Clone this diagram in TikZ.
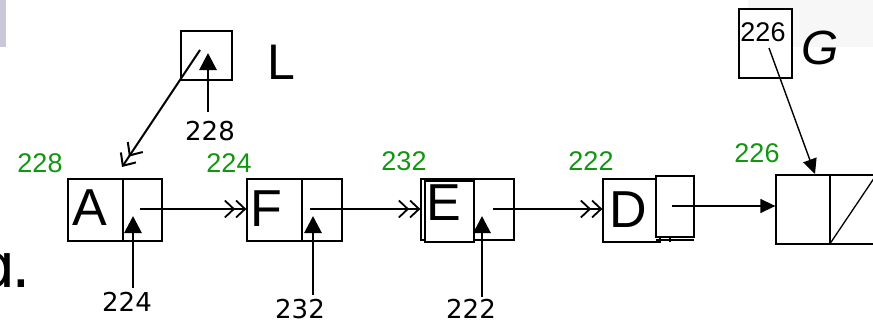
\documentclass[tikz,border=0pt]{standalone}
\usepackage{fontspec}
\setmainfont{DejaVu Sans}
\newfontfamily\lib{Liberation Sans}
\usetikzlibrary{arrows.meta}
\definecolor{lblgreen}{RGB}{16,150,16}
\definecolor{barcol}{RGB}{200,200,216}
\begin{document}
\begin{tikzpicture}[x=1pt,y=-1pt,
  cell/.style={draw, line width=1.3pt, inner sep=0pt, fill=white},
  big/.style={font=\lib\fontsize{52}{52}\selectfont, inner sep=0pt},
  addr/.style={font=\fontsize{26}{26}\selectfont, inner sep=0pt, text=black},
  gaddr/.style={font=\lib\fontsize{27}{27}\selectfont, inner sep=0pt, text=lblgreen},
  ptr/.style={line width=1.3pt, -{Straight Barb[length=9pt,width=17pt,line width=1.8pt] Straight Barb[length=9pt,width=17pt,line width=1.8pt]}},
  lptr/.style={line width=2pt, -{Straight Barb[length=10pt,width=18pt,line width=2pt] Straight Barb[length=10pt,width=18pt,line width=2pt]}},
  uparrow/.style={line width=2.8pt, -{Triangle[length=17pt,width=17pt]}},
  thinarrow/.style={line width=1.4pt, -{Triangle[length=15pt,width=14pt]}}
]
\useasboundingbox (0,0) rectangle (873,324);
\clip (0,0) rectangle (873,324);
\fill[barcol] (0,0) rectangle (6,47);
\fill[gray!6] (748,0) rectangle (873,47);

% text of slide
\node[anchor=base east, inner sep=0pt, font=\fontsize{62}{62}\selectfont] (slide) at (31,287) {ɑ\kern-5pt.};

% L pointer box
\node[cell, minimum width=51pt, minimum height=49pt] (Lbox) at (206.5,55.5) {};
\node[font=\lib\fontsize{50}{50}\selectfont, inner sep=0pt] (Lname) at (281,62) {L};

% node A
\node[cell, minimum width=55pt, minimum height=62pt] (Ad) at (95.5,210) {};
\node[cell, minimum width=39pt, minimum height=62pt] (Ap) at (142.5,210) {};
\node[big] (Al) at (90,208) {A};
% node F
\node[cell, minimum width=55pt, minimum height=62pt] (Fd) at (274.5,210) {};
\node[cell, minimum width=40pt, minimum height=62pt] (Fp) at (322,210) {};
\node[big] (Fl) at (266,209) {F};
% node E
\node[cell, minimum width=53pt, minimum height=61pt] (Eb) at (447.5,209.5) {};
\node[cell, minimum width=49pt, minimum height=61pt] (Ed) at (449.5,211.5) {};
\node[cell, minimum width=40pt, minimum height=61pt] (Ep) at (494,209.5) {};
\node[big] (El) at (444,203) {E};
% node D
\node[cell, minimum width=57pt, minimum height=63pt] (Dd) at (631.5,210.5) {};
\draw[line width=1.3pt] (656,240) -- (694,240);
\draw[line width=1.3pt] (670,237) -- (670,242);
\node[cell, minimum width=38pt, minimum height=61pt] (Dp) at (675,206.5) {};
\node[big] (Dl) at (628,210) {D};
% new node (G)
\node[cell, minimum width=54pt, minimum height=69pt] (Gd) at (803,209.5) {};
\node[cell, minimum width=46pt, minimum height=69pt] (Gp) at (853,209.5) {};
\draw[line width=1.3pt] (Gp.south west) -- (Gp.north east);
% G pointer box
\node[cell, minimum width=53pt, minimum height=69pt] (Gbox) at (765.5,43.5) {};
\node[font=\lib\fontsize{27}{27}\selectfont, inner sep=0pt] (Gval) at (763,32) {226};
\node[font=\lib\itshape\fontsize{48}{48}\selectfont, inner sep=0pt] (Gname) at (820,48) {G};

% green addresses
\node[gaddr] (gA) at (40,163) {228};
\node[gaddr] (gF) at (229,163) {224};
\node[gaddr] (gE) at (404,161) {232};
\node[gaddr] (gD) at (591,161) {222};
\node[gaddr] (gG) at (757,153) {226};

% black addresses
\node[addr] (bL) at (210,131) {228};
\node[addr] (bA) at (127,302) {224};
\node[addr] (bF) at (300,309) {232};
\node[addr] (bE) at (471,309) {222};

% coordinates
\coordinate (LsS) at (200,50);
\coordinate (LsT) at (122,167);
\coordinate (LuS) at (208,112);
\coordinate (LuT) at (208,53);
\coordinate (AuS) at (133,288);
\coordinate (AuT) at (133,216);
\coordinate (FuS) at (313,295);
\coordinate (FuT) at (313,216);
\coordinate (EuS) at (482,297);
\coordinate (EuT) at (482,216);
\coordinate (Aps) at (140,209);
\coordinate (Fps) at (310,209);
\coordinate (Eps) at (493,209);
\coordinate (Dps) at (672,206);
\coordinate (GvS) at (769,48);
\coordinate (GvT) at (815,174);

% connectors
\draw[lptr] (LsS) -- (LsT);
\draw[uparrow] (LuS) -- (LuT);
\draw[uparrow] (AuS) -- (AuT);
\draw[uparrow] (FuS) -- (FuT);
\draw[uparrow] (EuS) -- (EuT);
\draw[ptr] (Aps) -- (Aps -| Fd.west);
\draw[ptr] (Fps) -- (Fps -| Eb.west);
\draw[ptr] (Eps) -- (Eps -| Dd.west);
\draw[thinarrow] (Dps) -- (Dps -| Gd.west);
\draw[thinarrow] (GvS) -- (GvT);
\end{tikzpicture}
\end{document}
